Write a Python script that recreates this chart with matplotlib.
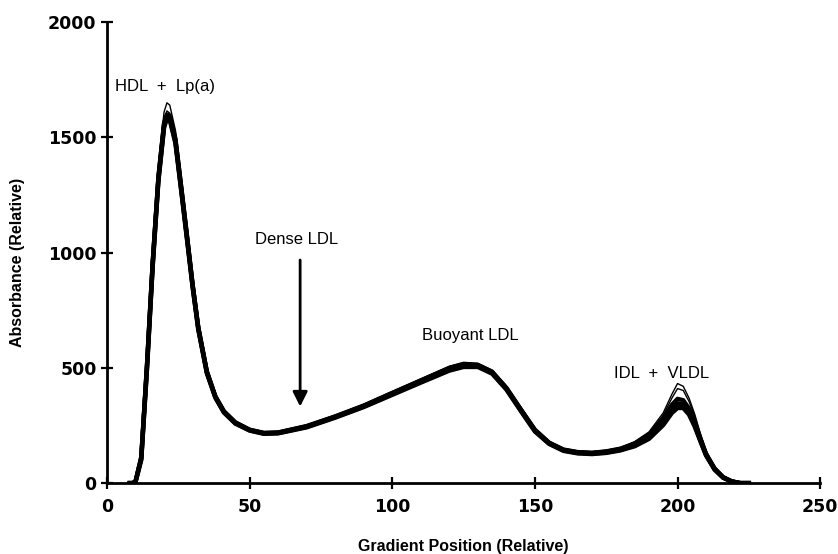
import numpy as np
import matplotlib.pyplot as plt

# gradient positions shared by all replicate scans
pos = [8, 9, 10, 12, 14, 16, 18, 20, 21, 22, 24, 26, 28, 30, 32, 35, 38, 41, 45,
       50, 55, 60, 70, 80, 90, 100, 110, 120, 125, 130, 135, 140, 145, 150,
       155, 160, 165, 170, 175, 180, 185, 190, 195, 198, 200, 202, 204, 206,
       208, 210, 213, 216, 219, 222, 225]

# replicate absorbance profiles
scan1 = [0, 0, 10, 125, 540, 990, 1370, 1610, 1650, 1640, 1530, 1320, 1100, 880, 690,
         495, 385, 318, 268, 236, 222, 224, 252, 294, 342, 397, 452, 507, 524, 520,
         490, 420, 327, 237, 180, 150, 139, 136, 142, 154, 180, 222, 305, 385, 432,
         420, 370, 300, 215, 140, 70, 28, 8, 0, 0]
scan2 = [0, 0, 9, 120, 525, 970, 1345, 1580, 1615, 1605, 1505, 1300, 1088, 872, 684,
         490, 380, 315, 266, 234, 220, 222, 250, 292, 339, 394, 449, 504, 520, 517,
         487, 417, 324, 234, 178, 148, 137, 134, 140, 152, 177, 216, 295, 368, 410,
         402, 355, 292, 210, 136, 68, 27, 8, 0, 0]
scan3 = [0, 0, 8, 115, 515, 960, 1330, 1565, 1600, 1594, 1495, 1290, 1080, 866, 678,
         486, 377, 312, 264, 232, 218, 220, 248, 290, 337, 392, 446, 500, 516, 513,
         484, 414, 322, 232, 176, 146, 135, 132, 138, 150, 172, 210, 280, 340, 366,
         360, 325, 268, 196, 128, 64, 26, 8, 0, 0]
scan4 = [0, 0, 7, 110, 508, 952, 1322, 1557, 1595, 1588, 1487, 1283, 1074, 861, 674,
         483, 375, 310, 262, 231, 217, 219, 246, 288, 334, 389, 442, 496, 512, 510,
         481, 412, 320, 230, 174, 144, 133, 130, 136, 147, 168, 204, 270, 325, 346,
         344, 312, 258, 190, 124, 62, 25, 7, 0, 0]
scan5 = [0, 0, 6, 105, 500, 945, 1315, 1550, 1588, 1582, 1480, 1276, 1068, 856, 670,
         480, 372, 308, 260, 229, 215, 217, 244, 286, 332, 386, 439, 492, 508, 507,
         478, 409, 317, 227, 172, 142, 131, 128, 133, 144, 164, 198, 260, 314, 336,
         334, 305, 252, 186, 122, 60, 24, 7, 0, 0]
scan6 = [0, 0, 5, 100, 492, 938, 1308, 1543, 1582, 1576, 1474, 1270, 1062, 851, 666,
         477, 370, 306, 258, 228, 214, 216, 242, 284, 330, 383, 436, 488, 504, 504,
         475, 406, 314, 224, 170, 140, 129, 126, 131, 142, 160, 192, 252, 304, 326,
         326, 298, 246, 182, 120, 58, 23, 7, 0, 0]

scans = [scan1, scan2, scan3, scan4, scan5, scan6]
widths = [1.0, 1.0, 3.0, 3.2, 3.2, 3.2]

fig = plt.figure(figsize=(8.38, 5.54), dpi=100)
ax = fig.add_axes([0.1277, 0.128, 0.851, 0.832])

for s, lw in zip(scans, widths):
    ax.plot(pos, s, color='black', lw=lw, solid_joinstyle='round')

ax.set_xlim(0, 250)
ax.set_ylim(0, 2000)
ax.set_xticks([0, 50, 100, 150, 200, 250])
ax.set_yticks([0, 500, 1000, 1500, 2000])

for side in ['top', 'right']:
    ax.spines[side].set_visible(False)
for side in ['left', 'bottom']:
    ax.spines[side].set_linewidth(2)

ax.tick_params(direction='inout', length=9, width=1.6)
ax.tick_params(axis='x', pad=6)
ax.tick_params(axis='y', pad=3)
for lab in ax.get_xticklabels() + ax.get_yticklabels():
    lab.set_fontfamily('DejaVu Sans')
    lab.set_fontweight('bold')
    lab.set_fontsize(12.5)

ax.set_xlabel('Gradient Position (Relative)', fontsize=11.5, fontweight='bold',
              family='Liberation Sans', va='center')
ax.set_ylabel('Absorbance (Relative)', fontsize=11.5, fontweight='bold',
              family='Liberation Sans', va='center')
ax.xaxis.set_label_coords(0.499, -0.138)
ax.yaxis.set_label_coords(-0.125, 0.479)

txt = dict(fontsize=12, family='Liberation Sans', ha='center', va='center')
ax.text(20.5, 1720, 'HDL  +  Lp(a)', **txt)
ax.text(66.5, 1055, 'Dense LDL', **txt)
ax.text(127.5, 640, 'Buoyant LDL', **txt)
ax.text(194.5, 475, 'IDL  +  VLDL', **txt)

ax.annotate('', xy=(67.7, 320), xytext=(67.7, 980),
            arrowprops=dict(arrowstyle='-|>', color='black', lw=2,
                            mutation_scale=22))

fig.savefig('out.png', dpi=100)
